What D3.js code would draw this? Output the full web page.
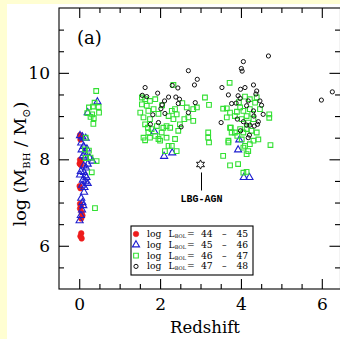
<!DOCTYPE html>
<html>
<head>
<meta charset="utf-8">
<script src="https://cdn.jsdelivr.net/npm/d3@7"></script>
<style>
  html, body { margin: 0; padding: 0; background: #fffed2; }
  svg { display: block; }
  text { font-family: "DejaVu Serif", serif; fill: #000; }
</style>
</head>
<body>
<svg id="chart" width="340" height="339"></svg>
<script>
(function () {
  "use strict";

  // log L_BOL = 44 - 45  [redshift, log M_BH]
  var lum44 = [
    [0.02, 8.56], [0.05, 8.50], [0.03, 8.46], [0.02, 7.99], [0.05, 7.95], [0.01, 7.90],
    [0.04, 7.87], [0.01, 7.38], [0.03, 7.33], [0.02, 6.97], [0.04, 6.92], [0.02, 6.86],
    [0.06, 6.77], [0.08, 6.70], [0.05, 6.63], [0.05, 6.29], [0.03, 6.22], [0.06, 6.17]
  ];
  // log L_BOL = 45 - 46
  var lum45 = [
    [0.02, 8.55], [0.08, 8.52], [0.16, 8.49], [0.05, 8.38], [0.11, 8.30], [0.19, 8.24],
    [0.06, 8.22], [0.14, 8.14], [0.09, 8.08], [0.15, 8.05], [0.26, 8.03], [0.33, 7.96],
    [0.21, 7.89], [0.11, 7.85], [0.17, 7.80], [0.04, 7.72], [0.02, 7.64], [0.15, 7.62],
    [0.09, 7.52], [0.16, 7.48], [0.21, 7.44], [0.07, 7.40], [0.13, 7.35], [0.12, 7.24],
    [0.05, 7.10], [0.08, 7.00], [0.10, 6.93], [0.07, 6.83], [0.04, 6.70], [0.01, 6.58],
    [0.12, 7.70], [0.18, 7.58],
    [0.45, 9.33], [0.21, 9.08], [1.86, 8.64], [2.10, 8.07], [2.30, 8.15],
    [3.93, 8.22], [3.96, 8.45], [4.07, 7.58], [4.21, 7.58]
  ];
  // log L_BOL = 46 - 47
  var lum46 = [
    [0.42, 9.58], [0.38, 9.31], [0.24, 9.20], [0.34, 9.22], [0.48, 9.21], [0.20, 9.07],
    [0.32, 9.04], [0.49, 9.08], [0.36, 8.95], [0.28, 8.98], [0.35, 8.82], [0.16, 8.50],
    [0.14, 8.23], [0.24, 8.20], [0.16, 8.03], [0.28, 8.04], [0.43, 7.96], [0.31, 7.70],
    [0.39, 6.87],
    [1.55, 9.43], [1.63, 9.39], [1.75, 9.35], [1.88, 9.39], [1.55, 9.27], [1.67, 9.24],
    [1.51, 9.08], [1.71, 9.12], [1.84, 9.16], [1.59, 8.97], [1.75, 8.93], [1.63, 8.81],
    [1.70, 8.73], [1.79, 8.70], [1.71, 8.62], [1.59, 8.50], [1.75, 8.50], [1.63, 8.44],
    [1.88, 8.54], [1.96, 8.47], [2.04, 8.62], [2.00, 8.43], [2.16, 8.50], [2.21, 8.31],
    [2.12, 8.19], [2.37, 8.47], [2.45, 8.66], [2.49, 8.81], [2.60, 8.93], [2.70, 8.97],
    [2.82, 8.89], [2.66, 9.20], [2.82, 9.16], [2.91, 9.20], [2.37, 9.16], [2.29, 9.12],
    [2.41, 9.04], [2.21, 9.00], [2.33, 8.93], [2.16, 8.77], [2.08, 8.73], [2.25, 8.73],
    [1.92, 8.77], [2.29, 8.31], [2.41, 8.19], [2.33, 9.72], [3.11, 9.43], [3.21, 9.26],
    [3.19, 8.62], [3.19, 8.50], [3.21, 8.39], [1.96, 9.05], [2.55, 9.30], [2.05, 9.25],
    [3.56, 8.08], [3.65, 8.97], [3.73, 8.73], [3.69, 8.43], [3.77, 8.62], [3.65, 9.18],
    [3.72, 9.77], [3.56, 9.17], [3.73, 9.08], [3.85, 9.00], [3.98, 9.20], [4.06, 9.12],
    [4.22, 9.16], [4.35, 9.31], [4.39, 9.43], [4.47, 9.16], [4.70, 9.04], [4.70, 8.96],
    [3.75, 8.73], [3.85, 8.62], [3.98, 8.70], [4.06, 8.62], [4.14, 8.70], [4.26, 8.66],
    [4.39, 8.62], [4.43, 8.46], [4.31, 8.43], [4.22, 8.35], [4.10, 8.31], [4.18, 8.19],
    [4.14, 8.12], [4.06, 8.27], [4.02, 8.46], [3.91, 8.54], [3.69, 8.39], [3.73, 7.86],
    [3.93, 7.89], [4.06, 7.69], [4.14, 7.71], [4.73, 8.33], [4.22, 9.39], [4.14, 9.00],
    [4.31, 8.93], [4.02, 8.93], [4.18, 8.85], [3.95, 9.32], [4.10, 9.45], [4.28, 9.05],
    [3.90, 9.10]
  ];
  // log L_BOL = 47 - 48
  var lum47 = [
    [2.70, 10.05], [2.92, 9.85], [2.85, 9.72], [1.63, 9.66], [2.30, 9.71], [2.44, 9.65],
    [1.94, 9.53], [1.56, 9.48], [1.67, 9.45], [2.21, 9.44], [2.39, 9.44], [2.48, 9.39],
    [2.11, 9.35], [2.45, 9.29], [2.87, 9.31], [2.05, 9.26], [2.02, 9.17], [2.12, 9.06],
    [1.82, 9.03], [1.96, 8.85], [1.76, 8.81], [2.70, 9.08], [2.52, 8.75], [3.51, 8.85],
    [3.53, 9.66], [3.69, 9.49], [3.77, 9.29],
    [4.68, 10.39], [4.06, 10.26], [4.01, 10.10], [4.03, 10.04], [3.99, 9.62], [4.10, 9.66],
    [4.31, 9.72], [4.39, 9.58], [4.37, 9.51], [3.93, 9.47], [3.88, 9.30], [3.98, 9.41],
    [4.18, 9.35], [4.47, 9.35], [4.51, 9.25], [4.55, 9.04], [4.31, 9.12], [4.14, 9.24],
    [3.91, 8.93], [4.06, 8.87], [4.14, 8.79], [4.22, 8.79], [4.33, 8.77], [4.43, 8.87],
    [4.41, 8.81], [3.99, 8.66], [4.21, 8.56], [4.18, 8.50], [4.32, 9.00],
    [5.99, 9.37], [6.26, 9.56]
  ];
  var lbgAgn = [3.0, 7.88];

  var xMajor = [0, 2, 4, 6];
  var yMajor = [6, 8, 10];
  var minorStep = 0.5;
  var legendRanges = [["44", "45"], ["45", "46"], ["46", "47"], ["47", "48"]];

  var svg = d3.select("#chart");

  // white page with yellow margin strip
  svg.append("rect").attr("x", 7).attr("y", 4).attr("width", 340).attr("height", 340).attr("fill", "#fff");

  var x = d3.scaleLinear().domain([-0.5, 6.45]).range([59, 340]);
  var y = d3.scaleLinear().domain([5, 11.5]).range([289, 8]);

  var xMinor = d3.range(0, 6.5, minorStep).filter(function (v) { return xMajor.indexOf(v) < 0; });
  var yMinor = d3.range(5.5, 11.5, minorStep).filter(function (v) { return yMajor.indexOf(v) < 0; });

  function styleAxis(g) {
    g.select(".domain").remove();
    g.selectAll("line").attr("stroke", "#000").attr("stroke-width", 1.1);
    g.selectAll("text").style("font-family", "'DejaVu Serif', serif").style("font-size", "17px").attr("fill", "#000");
  }

  var x0 = x.range()[0], x1 = x.range()[1] + 0.5, y0 = y.range()[0], y1 = y.range()[1];

  // bottom
  svg.append("g").attr("transform", "translate(0," + y0 + ")")
    .call(d3.axisBottom(x).tickValues(xMajor).tickSize(-10).tickPadding(9).tickFormat(d3.format("d")))
    .call(styleAxis);
  svg.append("g").attr("transform", "translate(0," + y0 + ")")
    .call(d3.axisBottom(x).tickValues(xMinor).tickSize(-5).tickFormat(""))
    .call(styleAxis);
  // top
  svg.append("g").attr("transform", "translate(0," + y1 + ")")
    .call(d3.axisTop(x).tickValues(xMajor).tickSize(-10).tickFormat(""))
    .call(styleAxis);
  svg.append("g").attr("transform", "translate(0," + y1 + ")")
    .call(d3.axisTop(x).tickValues(xMinor).tickSize(-5).tickFormat(""))
    .call(styleAxis);
  // left
  svg.append("g").attr("transform", "translate(" + x0 + ",0)")
    .call(d3.axisLeft(y).tickValues(yMajor).tickSize(-10).tickPadding(9).tickFormat(d3.format("d")))
    .call(styleAxis);
  svg.append("g").attr("transform", "translate(" + x0 + ",0)")
    .call(d3.axisLeft(y).tickValues(yMinor).tickSize(-5).tickFormat(""))
    .call(styleAxis);
  // right
  svg.append("g").attr("transform", "translate(" + x1 + ",0)")
    .call(d3.axisRight(y).tickValues(yMajor).tickSize(-11).tickFormat(""))
    .call(styleAxis);
  svg.append("g").attr("transform", "translate(" + x1 + ",0)")
    .call(d3.axisRight(y).tickValues(yMinor).tickSize(-5.5).tickFormat(""))
    .call(styleAxis);

  svg.append("rect")
    .attr("x", x0).attr("y", y1).attr("width", x1 - x0).attr("height", y0 - y1)
    .attr("fill", "none").attr("stroke", "#000").attr("stroke-width", 1.1);

  // markers
  var RED = "#ee1c1c", BLUE = "#1f1fd0", GREEN = "#33e033";
  var tri = d3.symbol().type(d3.symbolTriangle).size(22);
  var sq = d3.symbol().type(d3.symbolSquare).size(22);

  function drawRed(sel) { sel.append("circle").attr("r", 2.8).attr("fill", RED).attr("stroke", RED).attr("stroke-width", 0.5); }
  function drawBlue(sel) { sel.append("path").attr("d", tri()).attr("fill", "none").attr("stroke", BLUE).attr("stroke-width", 1.1); }
  function drawGreen(sel) { sel.append("path").attr("d", sq()).attr("fill", "none").attr("stroke", GREEN).attr("stroke-width", 1.1); }
  function drawBlack(sel) { sel.append("circle").attr("r", 2.1).attr("fill", "none").attr("stroke", "#111").attr("stroke-width", 1); }

  function plotSeries(data, draw) {
    svg.append("g").selectAll("g").data(data).enter().append("g")
      .attr("transform", function (d) { return "translate(" + x(d[0]) + "," + y(d[1]) + ")"; })
      .call(draw);
  }
  plotSeries(lum44, drawRed);
  plotSeries(lum45, drawBlue);
  plotSeries(lum46, drawGreen);
  plotSeries(lum47, drawBlack);

  // LBG-AGN star
  var starPts = d3.range(12).map(function (i) {
    var a = -Math.PI / 2 + i * Math.PI / 6, r = i % 2 ? 2.4 : 4.6;
    return [r * Math.cos(a), r * Math.sin(a)];
  });
  var sx = x(lbgAgn[0]), sy = y(lbgAgn[1]);
  svg.append("path")
    .attr("d", d3.line()(starPts) + "Z")
    .attr("transform", "translate(" + sx + "," + sy + ")")
    .attr("fill", "none").attr("stroke", "#000").attr("stroke-width", 0.9);
  svg.append("line").attr("x1", sx + 1).attr("x2", sx + 1).attr("y1", sy + 8).attr("y2", sy + 26)
    .attr("stroke", "#000").attr("stroke-width", 1);
  svg.append("text").attr("x", sx + 1).attr("y", sy + 38).attr("text-anchor", "middle")
    .style("font-family", "'Liberation Mono', monospace").style("font-size", "10px").style("font-weight", "bold")
    .text("LBG-AGN");

  // legend
  var leg = svg.append("g");
  leg.append("rect").attr("x", 131).attr("y", 226).attr("width", 122).attr("height", 49)
    .attr("fill", "#fff").attr("stroke", "#000").attr("stroke-width", 1.1);
  var draws = [drawRed, drawBlue, drawGreen, drawBlack];
  legendRanges.forEach(function (rg, i) {
    var by = 237 + i * 10.8;
    var row = leg.append("g").style("font-size", "9.2px");
    row.append("g").attr("transform", "translate(136," + (by - 3) + ")").call(draws[i]);
    row.append("text").attr("x", 147).attr("y", by).text("log");
    row.append("text").attr("x", 168.5).attr("y", by).text("L");
    row.append("text").attr("x", 174.8).attr("y", by + 1).style("font-size", "5px").text("BOL");
    row.append("text").attr("x", 187).attr("y", by).text("=");
    row.append("text").attr("x", 201).attr("y", by).text(rg[0]);
    row.append("text").attr("x", 222).attr("y", by).text("\u2013");
    row.append("text").attr("x", 236.5).attr("y", by).text(rg[1]);
  });

  // labels
  svg.append("text").attr("x", 77).attr("y", 44).style("font-size", "18px").text("(a)");
  svg.append("text").attr("x", 205).attr("y", 333).attr("text-anchor", "middle")
    .style("font-size", "16.5px").text("Redshift");
  var yl = svg.append("text").attr("transform", "translate(26,164) rotate(-90)")
    .attr("text-anchor", "middle").style("font-size", "17.5px");
  yl.append("tspan").text("log (M");
  yl.append("tspan").attr("dy", 4).style("font-size", "10px").text("BH");
  yl.append("tspan").attr("dy", -4).text(" / M");
  yl.append("tspan").attr("dy", 4).style("font-size", "11px").text("\u2299");
  yl.append("tspan").attr("dy", -4).text(")");
}());
</script>
</body>
</html>
